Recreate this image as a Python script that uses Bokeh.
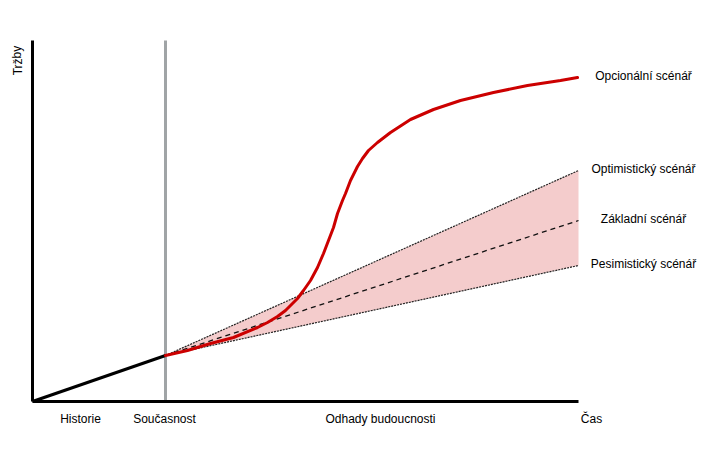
from bokeh.plotting import figure
from bokeh.models import Range1d, Label
from bokeh.embed import file_html
from bokeh.resources import INLINE

# --- data (time units on x, revenue units on y; origin at 0,0) ---
history_x = [0, 133]
history_y = [0, 46]
present_x = 133
future_x = [133, 546]
optimistic_y = [46, 231]
basic_y = [46, 181]
pessimistic_y = [46, 136]
option_x = [133, 155, 178, 201, 225, 235, 245, 253, 258, 265, 271, 278, 285, 291, 296, 301, 305, 310,
            313, 318, 325, 330, 336, 345, 358, 378, 401, 428, 461, 495, 528, 545]
option_y = [46, 51, 58, 64, 74, 79, 85, 91, 96, 103, 111, 121, 134, 148, 161, 174, 188, 201,
            208, 221, 235, 243, 251, 259, 269, 282, 292, 301, 309, 316, 321, 324]
scenario_labels = ["Opcionální scénář", "Optimistický scénář", "Základní scénář", "Pesimistický scénář"]
axis_labels = ["Historie", "Současnost", "Odhady budoucnosti", "Čas"]
y_label = "Tržby"
y_top = 361
x_end = 546

FONT = "Liberation Sans"

p = figure(width=717, height=459, output_backend="svg", toolbar_location=None,
           x_range=Range1d(-32, 685), y_range=Range1d(-58, 401),
           min_border=0, min_border_left=0, min_border_right=0,
           min_border_top=0, min_border_bottom=0)
p.axis.visible = False
p.grid.visible = False
p.outline_line_color = None
p.background_fill_color = "white"
p.border_fill_color = "white"

# shaded scenario band
p.varea(x=future_x, y1=pessimistic_y, y2=optimistic_y, fill_color="#f4cccc", fill_alpha=1)

# present line
p.line([present_x, present_x], [0, y_top], line_color="#a0a4a6", line_width=3)

# scenario lines
p.line(future_x, optimistic_y, line_color="#222222", line_width=1.2, line_dash="2 1")
p.line(future_x, pessimistic_y, line_color="#222222", line_width=1.2, line_dash="2 1")
p.line(future_x, basic_y, line_color="#111111", line_width=1.3, line_dash="5 4")

# history
p.line(history_x, history_y, line_color="black", line_width=3)

# option curve
p.line(option_x, option_y, line_color="#cc0000", line_width=3, line_cap="round", line_join="round")

# axes
p.line([0, 0], [0, y_top], line_color="black", line_width=3)
p.line([0, x_end], [0, 0], line_color="black", line_width=3)

# scenario labels
lab_y = [option_y[-1], optimistic_y[-1], basic_y[-1], pessimistic_y[-1]]
for txt, yy in zip(scenario_labels, lab_y):
    p.add_layout(Label(x=611, y=yy + 2, text=txt, text_align="center", text_baseline="middle",
                       text_font=FONT, text_font_size="12px", text_color="black"))

# x labels
for txt, xx in zip(axis_labels, [48, 132, 348, 559]):
    p.add_layout(Label(x=xx, y=-17, text=txt, text_align="center", text_baseline="middle",
                       text_font=FONT, text_font_size="12px", text_color="black"))

p.add_layout(Label(x=-15, y=341, text=y_label, angle=1.5708, text_align="center",
                   text_baseline="middle", text_font=FONT, text_font_size="12px", text_color="black"))

open("out.html", "w").write(file_html(p, INLINE))
